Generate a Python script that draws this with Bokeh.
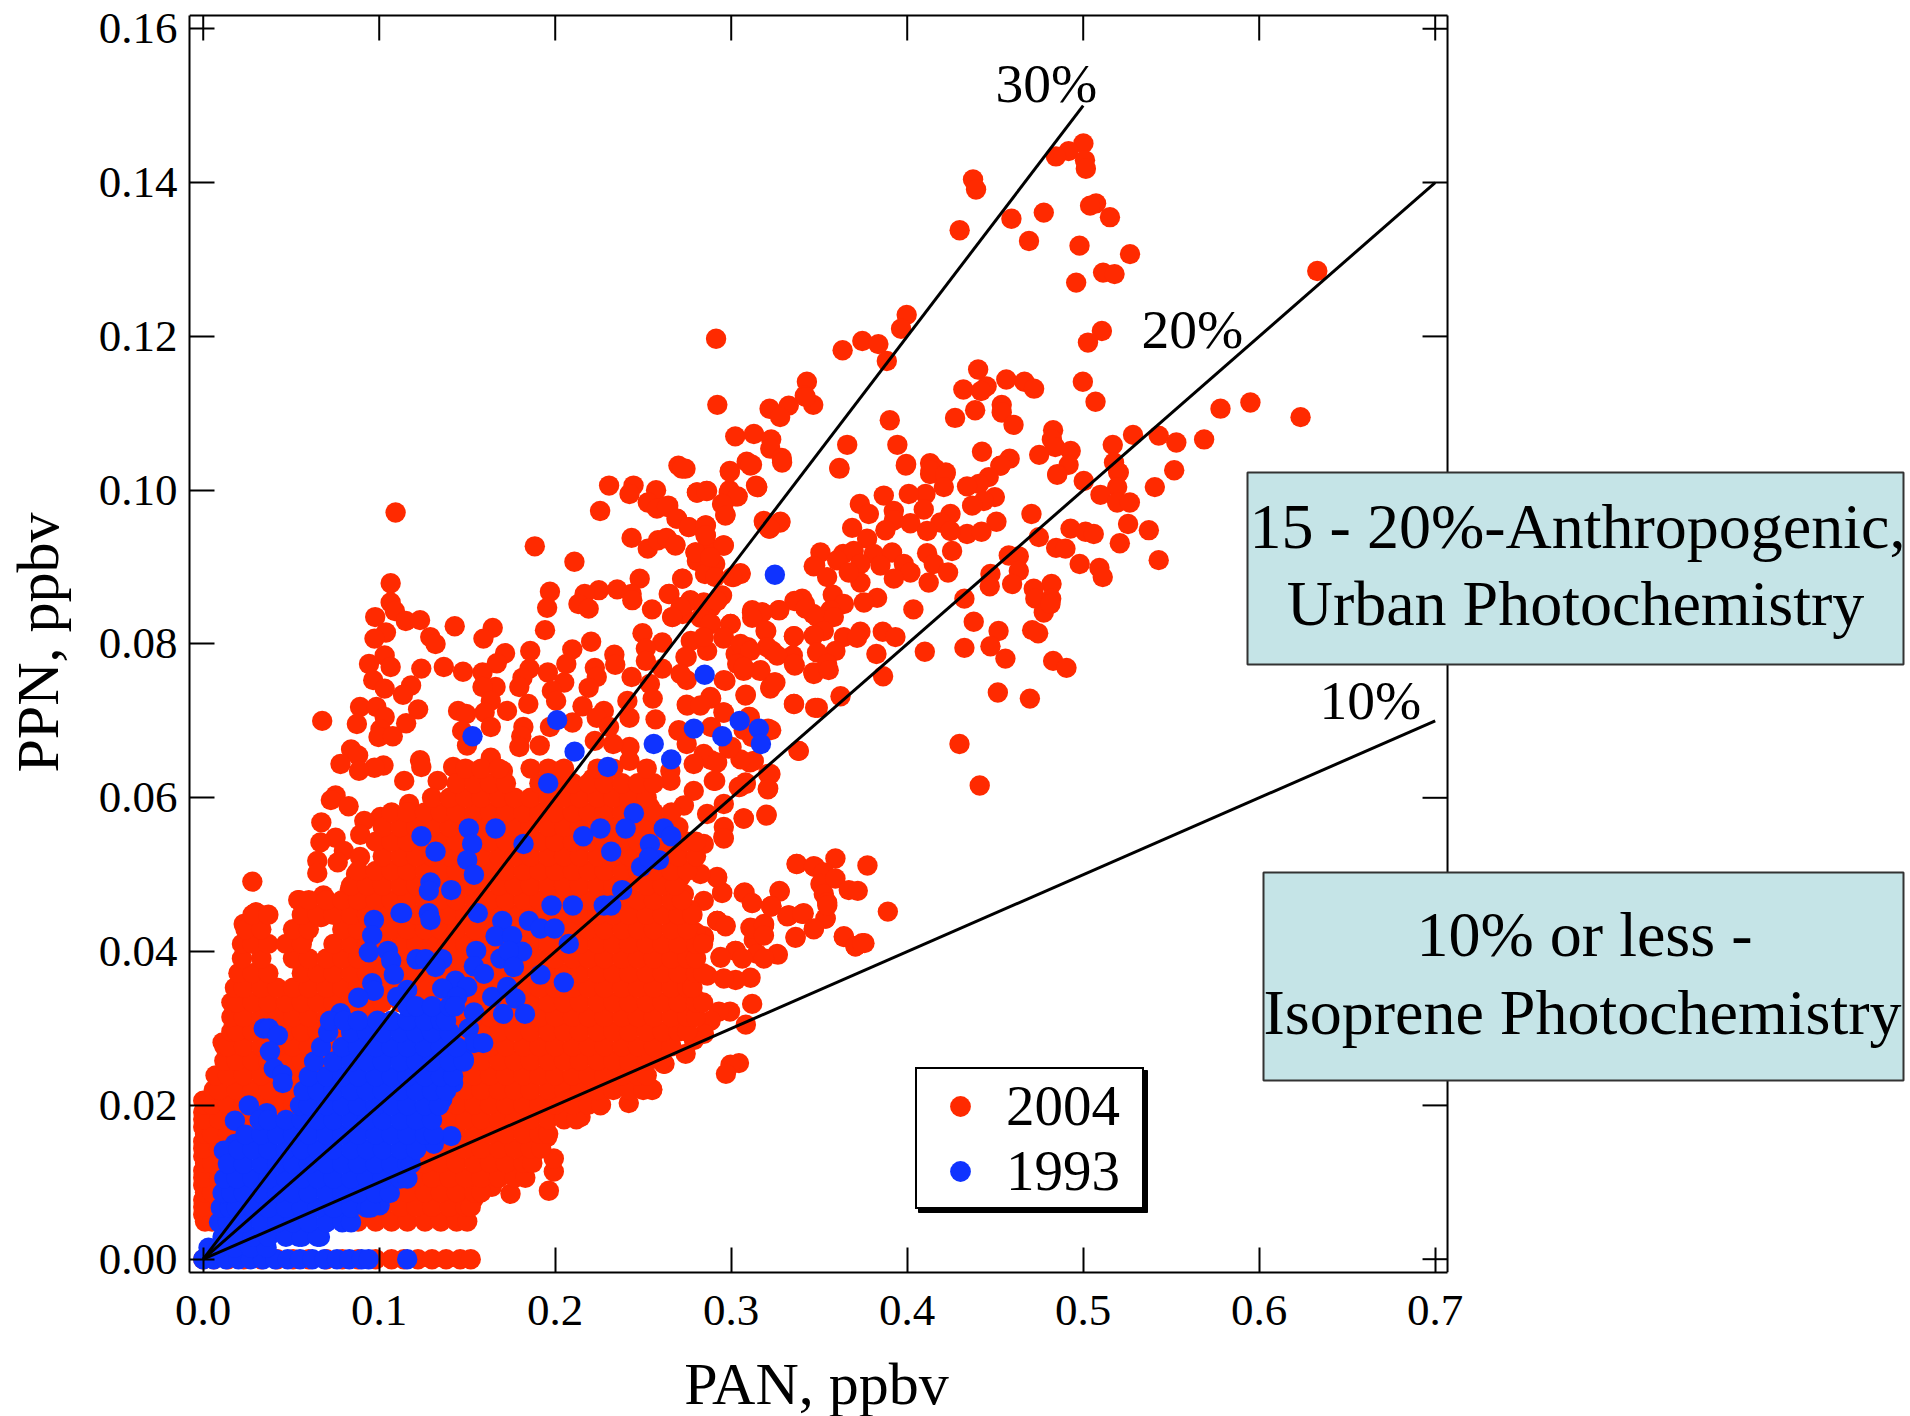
from bokeh.embed import file_html
from bokeh.resources import INLINE
from bokeh.plotting import figure
from bokeh.models import (Range1d, LinearAxis, FixedTicker, PrintfTickFormatter, Label, BoxAnnotation,
                          Legend, LegendItem)

# ---- values ----
x_ticks = [0.0, 0.1, 0.2, 0.3, 0.4, 0.5, 0.6, 0.7]
y_ticks = [0.0, 0.02, 0.04, 0.06, 0.08, 0.10, 0.12, 0.14, 0.16]
pan_30 = [0.0, 0.5]
ppn_30 = [0.0, 0.15]
pan_20 = [0.0, 0.7]
ppn_20 = [0.0, 0.14]
pan_10 = [0.0, 0.7]
ppn_10 = [0.0, 0.07]

# 2004, upper part of the cloud
upper_2004 = [
(.5001,.1451),(.4917,.1441),(.4845,.1434),(.5010,.1429),(.5015,.1418),(.4374,.1404),(.4391,.1391),(.5073,.1373),
(.5039,.1370),(.5152,.1355),(.4776,.1361),(.4592,.1353),(.4298,.1338),(.4692,.1324),(.4979,.1318),(.5266,.1307),
(.5113,.1283),(.5178,.1281),(.4960,.1270),(.6330,.1285),(.3997,.1228),(.3965,.1210),(.5106,.1207),(.5027,.1192),
(.3745,.1194),(.3836,.1190),(.3633,.1182),(.3884,.1168),(.4403,.1157),(.4563,.1144),(.4666,.1141),(.4998,.1141),
(.3430,.1141),(.4319,.1131),(.4451,.1135),(.4420,.1129),(.4721,.1132),(.3418,.1123),(.3466,.1111),(.5070,.1115),
(.5950,.1114),(.5780,.1106),(.6235,.1095),(.4537,.1111),(.4386,.1104),(.4537,.1101),(.4272,.1094),(.3901,.1091),
(.4604,.1085),(.4829,.1078),(.4822,.1066),(.3659,.1059),(.3944,.1059),(.5283,.1072),(.5429,.1071),(.5529,.1062),
(.5687,.1066),(.5168,.1059),(.4425,.1050),(.4841,.1056),(.4929,.1051),(.4750,.1046),(.4582,.1041),(.4530,.1032),
(.3994,.1034),(.4130,.1035),(.4159,.1028),(.4219,.1023),(.4917,.1033),(.5175,.1036),(.3614,.1029),(.5517,.1026),
(.5199,.1023),(.4853,.1021),(.4130,.1021),
(.2914,.1197),(.2921,.1111),(.3218,.1106),(.3327,.1110),(.3278,.1095),(.3424,.1121),(.3023,.1070),(.3129,.1073),
(.3227,.1066),(.3222,.1054),(.3287,.1042),(.3088,.1037),(.3118,.1033),(.2700,.1032),(.2740,.1028),(.2992,.1025),
(.3141,.1006),(.2306,.1006),(.2445,.1006),
]

# 2004, middle-left lace
middle_2004 = [
(.2573,.1000),(.2422,.0995),(.2805,.0997),(.2863,.0999),(.2990,.1000),(.3148,.1004),(.3025,.0992),(.2526,.0984),
(.2642,.0980),(.2956,.0982),(.2578,.0976),(.2255,.0973),(.1093,.0971),(.2967,.0968),(.2689,.0963),(.2758,.0952),
(.2856,.0954),(.3187,.0958),(.3278,.0958),(.3215,.0950),(.2434,.0938),(.2631,.0938),(.2526,.0924),(.2584,.0935),
(.2682,.0929),(.1884,.0927),(.2856,.0941),(.2956,.0928),(.2798,.0919),(.2886,.0924),(.2805,.0908),(.2909,.0904),
(.2109,.0907),(.3053,.0891),(.3014,.0887),(.2851,.0891),(.3477,.0902),(.2480,.0885),(.2724,.0885),(.2909,.0887),
(.1065,.0879),(.1970,.0868),(.2248,.0870),(.2167,.0865),(.2352,.0871),(.2434,.0865),(.2649,.0865),(.2770,.0856),
(.2932,.0861),(.2132,.0852),(.2438,.0857),(.2190,.0846),(.1954,.0847),(.1065,.0854),(.2550,.0845),(.3118,.0841),
(.3176,.0841),(.3273,.0844),(.3373,.0856),(.3419,.0852),(.3466,.0839),(.2724,.0839),(.2666,.0835),(.2886,.0848),
(.0977,.0835),(.1089,.0843),(.1151,.0830),(.1232,.0831),(.1429,.0823),(.1645,.0821),(.2997,.0826),(.2886,.0826),
(.3199,.0817),(.2496,.0814),(.1942,.0818),(.3357,.0810),(.1038,.0815),(.1290,.0809),(.1592,.0807),(.0973,.0807),
(.2608,.0802),(.2770,.0804),(.2956,.0807),(.3095,.0796),(.1320,.0800),(.2204,.0803),(.2515,.0794),(.1858,.0791),
(.2097,.0793),(.1715,.0788),(.3234,.0791),(.3350,.0785),(.2747,.0783),(.2336,.0786),(.2863,.0791),(.3025,.0787),
(.1031,.0785),(.0942,.0774),(.1065,.0770),(.1668,.0775),(.1367,.0770),(.1239,.0768),(.1476,.0764),(.2063,.0774),
(.2225,.0769),(.2341,.0773),(.2608,.0768),(.1854,.0768),(.1958,.0763),(.2515,.0778),(.1587,.0763),(.3361,.0772),
(.3071,.0765),(.3164,.0765),(.3466,.0763),(.2434,.0757),(.2236,.0757),(.1814,.0756),(.0966,.0753),(.1181,.0746),
(.2967,.0752),(.3245,.0750),(.2747,.0753),(.2538,.0748),(.2190,.0743),(.2051,.0750),(.1981,.0739),(.1661,.0744),
(.1587,.0744),(.1031,.0742),(.3083,.0734),(.3222,.0742),(.1135,.0734),(.1796,.0744),(.2554,.0729),(.2410,.0726),
(.2886,.0729),(.2747,.0721),(.3357,.0722),(.1847,.0722),(.2005,.0726),(.1634,.0726),(.0891,.0718),(.0984,.0718),
(.1448,.0713),(.1221,.0715),(.2276,.0713),(.2155,.0719),(.3477,.0717),(.2956,.0711),(.1599,.0711),(.1726,.0713),
(.1494,.0709),(.1031,.0705),(.2236,.0704),(.2422,.0704),(.2570,.0702),(.0676,.0700),(.0873,.0696),(.1153,.0697),
(.2098,.0698),(.3106,.0705),(.1819,.0692),(.1471,.0687),(.1007,.0689),(.2700,.0687),(.3210,.0690),(.1970,.0692),
(.2886,.0692),(.2306,.0692),(.1634,.0692),(.0996,.0679),(.1077,.0680),(.3118,.0679),(.1807,.0680),(.1499,.0668),
(.2225,.0674),(.3384,.0661),(.0840,.0663),(.1796,.0666),(.1912,.0668),(.3002,.0666),(.2747,.0670),(.2422,.0666),
(.2329,.0670),(.1634,.0652),(.0880,.0655),(.1232,.0649),(.0780,.0644),(.1420,.0640),(.1024,.0642),(.0973,.0639),
(.3106,.0646),(.2886,.0649),(.3210,.0631),(.0885,.0635),(.1239,.0640),(.2422,.0648),(.2654,.0635),(.1142,.0622),
(.3083,.0618),(.3048,.0614),(.3210,.0612),(.1332,.0622),(.1494,.0631),(.2909,.0622),(.1703,.0635),(.2213,.0625),
(.0752,.0603),(.0725,.0597),(.0826,.0589),(.1170,.0592),(.2538,.0588),(.3201,.0578),(.3071,.0573),(.0671,.0568),
(.1007,.0575),(.0915,.0570),(.2955,.0549),(.0892,.0552),(.0752,.0548),(.0666,.0542),(.0799,.0531),(.0648,.0518),
(.0764,.0516),(.0648,.0502),(.0891,.0523),(.0279,.0491),(.0868,.0501),(.3373,.0514),(.3477,.0510),(.3276,.0478),
(.3076,.0477),(.3118,.0463),(.3227,.0459),(.2949,.0477),(.2920,.0496),(.0544,.0467),(.0683,.0473),(.0833,.0481),
(.0300,.0451),(.0230,.0436),(.0671,.0445),(.3326,.0447),(.3408,.0449),(.3187,.0436),(.2921,.0440),
]

# 2004, right-hand part of the cloud
right_2004 = [
(.2721,.1028),(.2992,.1024),(.3109,.1032),(.3289,.1036),(.3615,.1028),(.3992,.1032),(.4132,.1026),(.4217,.1021),
(.4530,.1032),(.4852,.1020),(.5003,.1012),(.5202,.1023),(.5193,.1004),(.5407,.1004),(.4463,.1017),(.4407,.1008),
(.4340,.1005),(.4208,.1004),(.2806,.0997),(.2859,.0999),(.2986,.0997),(.3037,.0992),(.3147,.1004),(.5098,.0994),
(.5193,.0984),(.5265,.0984),(.4498,.0991),(.4435,.0986),(.4369,.0980),(.4104,.0995),(.4009,.0995),(.3867,.0993),
(.3731,.0982),(.2948,.0982),(.2967,.0967),(.2636,.0978),(.2693,.0963),(.2759,.0952),(.2854,.0954),(.4706,.0969),
(.4246,.0969),(.4094,.0975),(.3782,.0969),(.3924,.0973),(.4507,.0959),(.4018,.0957),(.3924,.0961),(.4189,.0958),
(.3280,.0959),(.3185,.0960),(.3219,.0950),(.3687,.0951),(.3876,.0948),(.5255,.0956),(.4928,.0950),(.5373,.0948),
(.5013,.0946),(.5060,.0943),(.4340,.0943),(.4422,.0946),(.4246,.0947),(.4113,.0947),(.2636,.0937),(.2683,.0928),
(.2854,.0941),(.2958,.0928),(.4748,.0939),(.3772,.0937),(.2797,.0919),(.2882,.0913),(.5208,.0931),(.4846,.0925),
(.4899,.0924),(.4255,.0921),(.4113,.0918),(.3507,.0919),(.3636,.0917),(.3696,.0921),(.3810,.0917),(.3914,.0919),
(.4577,.0915),(.4634,.0914),(.4980,.0904),(.5092,.0899),(.5111,.0887),(.5429,.0909),(.3469,.0901),(.3602,.0909),
(.3734,.0904),(.3848,.0902),(.3981,.0904),(.4151,.0904),(.4232,.0893),(.4634,.0895),(.4473,.0891),(.3053,.0892),
(.3005,.0887),(.2721,.0885),(.4018,.0893),(.3924,.0885),(.4122,.0880),(.3734,.0880),(.3545,.0887),(.3668,.0893),
(.4596,.0878),(.4469,.0875),(.4820,.0878),(.4719,.0872),(.2645,.0865),(.2948,.0863),(.4728,.0859),(.4818,.0859),
(.4325,.0859),(.3577,.0864),(.3403,.0859),(.3359,.0856),(.3829,.0860),(.3754,.0854),(.2768,.0857),(.2844,.0854),
(.2712,.0848),(.2920,.0856),(.4776,.0841),(.4814,.0852),(.4035,.0845),(.3640,.0852),(.3564,.0844),(.3422,.0846),
(.3270,.0844),(.3119,.0844),(.3176,.0841),(.2664,.0835),(.2825,.0834),(.3119,.0834),(.2996,.0826),(.2882,.0826),
(.3488,.0835),(.3583,.0835),(.4378,.0829),(.4710,.0818),(.4744,.0814),(.4519,.0817),(.3861,.0816),(.3933,.0809),
(.3734,.0816),(.3195,.0817),(.3356,.0810),(.3640,.0809),(.3526,.0817),(.3469,.0811),(.3715,.0808),(.2958,.0809),
(.2844,.0809),(.3053,.0800),(.4473,.0797),(.4325,.0795),(.4100,.0790),(.3825,.0787),(.4558,.0781),(.3592,.0791),
(.3488,.0789),(.3204,.0796),(.3109,.0791),(.3261,.0785),(.2740,.0783),(.4829,.0778),(.4905,.0769),(.3356,.0774),
(.3545,.0774),(.3469,.0761),(.3554,.0766),(.3166,.0766),(.3034,.0774),(.2958,.0753),(.3071,.0770),(.3223,.0744),
(.3251,.0750),(.3863,.0758),(.2712,.0761),(.3081,.0733),(.4515,.0737),(.4697,.0729),(.3356,.0722),(.3492,.0717),
(.3621,.0732),(.2882,.0731),(.2750,.0720),(.2825,.0720),(.2958,.0711),(.3100,.0705),(.3227,.0688),(.3071,.0688),
(.2702,.0688),(.3382,.0661),(.4297,.0670),(.4412,.0616),(.3128,.0648),(.3053,.0650),(.2986,.0664),(.2844,.0657),
(.2787,.0644),(.2920,.0646),(.3223,.0631),(.3081,.0620),(.3043,.0614),(.3208,.0611),(.2901,.0622),(.2787,.0609),
(.2655,.0622),(.3071,.0573),(.3200,.0577),(.2958,.0592),(.2958,.0562),(.2731,.0590),(.2863,.0579),(.2958,.0547),
(.2844,.0540),(.3371,.0514),(.3592,.0521),(.3774,.0512),(.3469,.0511),(.3526,.0503),(.3507,.0488),(.3592,.0495),
(.3668,.0480),(.3719,.0479),(.3526,.0475),(.3545,.0464),(.3890,.0452),(.3274,.0479),(.3071,.0476),(.3119,.0463),
(.3229,.0459),(.2948,.0476),(.2920,.0497),(.2825,.0501),(.2712,.0497),(.2844,.0466),(.2731,.0475),(.2768,.0454),
(.2645,.0492),(.3412,.0450),(.3327,.0447),(.3536,.0443),(.3469,.0429),(.3365,.0418),(.3640,.0419),(.3757,.0411),
(.3706,.0407),(.2920,.0440),(.2967,.0434),(.3185,.0434),(.3109,.0431),(.2844,.0420),(.2797,.0425),(.3128,.0415),
(.3024,.0401),(.2939,.0393),(.3261,.0397),(.3147,.0397),(.2693,.0436),(.2655,.0414),(.2768,.0405),(.2626,.0393),
(.2921,.0440),(.2968,.0433),(.3119,.0430),(.3186,.0434),(.3186,.0421),(.3318,.0446),(.3404,.0449),(.3536,.0443),
(.3470,.0430),(.3366,.0419),(.3640,.0420),(.3706,.0407),(.3744,.0411),(.3227,.0459),(.3546,.0460),(.3265,.0396),
(.3186,.0391),(.3025,.0401),(.2940,.0392),(.3063,.0391),(.3110,.0366),(.3025,.0363),(.2958,.0365),(.2864,.0369),
(.3119,.0332),(.2993,.0322),(.2930,.0322),(.3083,.0305),(.3044,.0255),(.2996,.0253),(.2970,.0241),(.2845,.0417),
(.2798,.0423),(.2788,.0341),(.2807,.0332),(.2883,.0310),(.2845,.0293),(.2788,.0285),(.2741,.0267),(.2621,.0254),
(.2551,.0220),(.2513,.0231),(.2674,.0380),(.2731,.0388),(.2712,.0358),(.2542,.0358),(.2731,.0306),(.2627,.0293),
(.2523,.0271),
]

# 2004, edge of the dense mass at lower right and near the axis
lower_2004 = [
(.1538,.0079),(.1640,.0094),(.1746,.0085),(.1964,.0089),(.1992,.0114),(.1992,.0131),(.1954,.0159),(.1880,.0139),
(.1800,.0111),(.2087,.0189),(.2030,.0187),(.2144,.0185),(.2257,.0200),(.2418,.0203),(.2551,.0221),(.2390,.0228),
(.2617,.0254),(.0110,.0282),(.0210,.0373),(.0240,.0436),(.0300,.0451),(.0570,.0419),(.0540,.0467),(.0667,.0445),
]

# 2004, points sitting on the zero line
zero_pan_2004 = [.000,.006,.014,.023,.033,.042,.051,.060,.070,.079,.088,.098,.107,.114,.122,.130,.138,.146,.152]

# 2004, PPN of the points hugging the PPN axis (PAN close to zero)
edge_ppn_2004 = [.0058,.0077,.0096,.0115,.0134,.0153,.0172,.0191,.0206]

# 2004, the solid mass, read row by row (PPN value, PAN values)
rows_2004 = [
(.0049,[.001,.005,.079,.088,.098,.107,.116,.126,.135,.144,.150]),
(.0068,[.000,.009,.093,.102,.112,.121,.130,.140,.149,.152]),
(.0087,[.001,.005,.098,.107,.116,.126,.135,.144,.154,.158]),
(.0106,[.000,.009,.112,.121,.130,.140,.149,.158,.168,.177,.183]),
(.0125,[.001,.005,.014,.116,.126,.135,.144,.154,.163,.172,.182,.187]),
(.0144,[.000,.009,.019,.121,.130,.140,.149,.158,.168,.177,.186,.192]),
(.0163,[.001,.005,.014,.023,.126,.135,.144,.154,.163,.172,.182,.191,.196]),
(.0182,[.000,.009,.019,.028,.037,.047,.130,.140,.149,.158,.168,.177,.186,.196,.205,.212]),
(.0201,[.001,.005,.014,.023,.033,.042,.051,.060,.135,.144,.154,.163,.172,.182,.191,.200,.210,.219,.226]),
(.0220,[.006,.009,.019,.028,.037,.047,.056,.065,.130,.140,.149,.158,.168,.177,.186,.196,.205,.214,.224,.233,.242,.250]),
(.0239,[.007,.014,.023,.033,.042,.051,.060,.070,.135,.144,.154,.163,.172,.182,.191,.200,.210,.219,.228,.238,.247,.252]),
(.0258,[.012,.019,.028,.037,.047,.056,.065,.074,.140,.149,.158,.168,.177,.186,.196,.205,.214,.224,.233,.242,.252,.260]),
(.0277,[.012,.014,.023,.033,.042,.051,.060,.070,.079,.135,.144,.154,.163,.172,.182,.191,.200,.210,.219,.228,.238,.247,.256,.266]),
(.0296,[.016,.019,.028,.037,.047,.056,.065,.074,.084,.130,.140,.149,.158,.168,.177,.186,.196,.205,.214,.224,.233,.242,.252,.261,.270,.275]),
(.0315,[.016,.023,.033,.042,.051,.060,.070,.079,.088,.098,.126,.135,.144,.154,.163,.172,.182,.191,.200,.210,.219,.228,.238,.247,.256,.266,.275,.280]),
(.0334,[.016,.019,.028,.037,.047,.056,.065,.074,.084,.093,.102,.112,.121,.130,.140,.149,.158,.168,.177,.186,.196,.205,.214,.224,.233,.242,.252,.261,.270,.280,.284]),
(.0353,[.018,.023,.033,.042,.051,.060,.070,.079,.088,.098,.107,.116,.126,.135,.144,.154,.163,.172,.182,.191,.200,.210,.219,.228,.238,.247,.256,.266,.275,.278]),
(.0372,[.020,.028,.037,.056,.065,.074,.084,.093,.102,.112,.121,.130,.140,.149,.158,.168,.177,.186,.196,.205,.214,.224,.233,.242,.252,.261,.270,.280,.284]),
(.0391,[.022,.033,.051,.060,.070,.079,.088,.098,.107,.116,.126,.135,.144,.154,.163,.172,.182,.191,.200,.210,.219,.228,.238,.247,.256,.266,.275,.280]),
(.0410,[.022,.028,.037,.047,.056,.074,.084,.093,.102,.112,.121,.130,.140,.149,.158,.168,.177,.186,.196,.205,.214,.224,.233,.242,.252,.261,.270,.280,.284]),
(.0429,[.024,.033,.051,.060,.079,.088,.098,.107,.116,.126,.135,.144,.154,.163,.172,.182,.191,.200,.210,.219,.228,.238,.247,.256,.266,.275]),
(.0448,[.028,.037,.056,.065,.074,.084,.093,.102,.112,.121,.130,.140,.149,.158,.168,.177,.186,.196,.205,.214,.224,.233,.242,.252,.261,.270,.278]),
(.0467,[.060,.070,.079,.088,.098,.107,.116,.126,.135,.144,.154,.163,.172,.182,.191,.200,.210,.219,.228,.238,.247,.256,.266,.272]),
(.0486,[.084,.093,.102,.112,.121,.130,.140,.149,.158,.168,.177,.186,.196,.205,.214,.224,.233,.242,.252,.261,.268]),
(.0505,[.088,.098,.107,.116,.126,.135,.144,.154,.163,.172,.182,.191,.200,.210,.219,.228,.238,.247,.256,.266,.275]),
(.0524,[.102,.112,.121,.130,.140,.149,.158,.168,.177,.186,.196,.205,.214,.224,.233,.242,.252,.261,.270,.280]),
(.0543,[.098,.107,.116,.126,.135,.144,.154,.163,.172,.182,.191,.200,.210,.219,.228,.238,.247,.256,.266,.275,.280]),
(.0562,[.102,.112,.121,.130,.140,.149,.158,.168,.177,.186,.196,.205,.214,.224,.233,.242,.252,.261,.270]),
(.0581,[.107,.116,.126,.135,.144,.154,.163,.172,.182,.191,.200,.210,.219,.228,.238,.247,.256,.266]),
(.0600,[.130,.140,.149,.158,.168,.177,.186,.196,.205,.214,.224,.233,.242,.252]),
(.0619,[.144,.154,.163,.172,.191,.200,.210,.219,.228,.238,.247,.256]),
(.0638,[.149,.158,.168,.186,.196,.205,.224,.233,.252]),
]

# 1993, separate points
separate_1993 = [
(.2011,.0701),(.1530,.0680),(.2110,.0660),(.2299,.0640),(.2560,.0670),(.2659,.0650),(.2788,.0690),(.1960,.0619),
(.1509,.0560),(.1661,.0560),(.1240,.0550),(.1320,.0530),(.1528,.0540),(.1820,.0540),(.1500,.0519),(.1538,.0500),
(.1291,.0490),(.1282,.0479),(.1409,.0480),(.1121,.0450),(.1282,.0450),(.1291,.0441),(.1560,.0450),(.1699,.0440),
(.1661,.0420),(.1755,.0420),(.1850,.0440),(.1916,.0430),(.1996,.0430),(.1979,.0460),(.2100,.0460),(.2276,.0460),
(.2318,.0460),(.2380,.0480),(.2447,.0580),(.2400,.0560),(.2257,.0560),(.2159,.0550),(.2318,.0530),(.2538,.0540),
(.2617,.0560),(.2659,.0550),(.2589,.0519),(.2488,.0510),(.2532,.0522),(.2077,.0410),(.3248,.0890),(.2849,.0760),
(.2949,.0680),(.3048,.0700),(.3157,.0690),(.3169,.0670),(.1130,.0450),(.0970,.0441),(.0960,.0421),(.0941,.0399),
(.1812,.0400),(.1689,.0391),(.1736,.0401),(.1551,.0401),(.1049,.0401),(.1068,.0388),(.1212,.0390),(.1263,.0390),
(.1358,.0390),(.1320,.0380),(.1538,.0381),(.1595,.0371),(.1765,.0380),(.1083,.0370),(.1916,.0370),(.2049,.0360),
(.0960,.0359),(.0970,.0349),(.0881,.0340),(.1433,.0362),(.1500,.0354),(.1358,.0352),(.1159,.0350),(.1102,.0341),
(.1443,.0341),(.1642,.0341),(.1727,.0354),(.1774,.0339),(.1704,.0319),(.1828,.0319),(.1538,.0321),(.0780,.0320),
(.0344,.0300),(.0373,.0300),(.0424,.0291),(.0379,.0270),(.0401,.0248),(.0449,.0240),(.0452,.0229),(.1509,.0300),
(.1538,.0281),(.1591,.0281),(.1481,.0260),(.1420,.0229),(.1358,.0208),(.0259,.0200),(.0361,.0190),(.0180,.0180),
(.1409,.0160),(.1310,.0150),(.0180,.0150),(.0117,.0141),(.1002,.0070),(.0663,.0029),(.0543,.0029),
]

# 1993, points on the zero line
zero_pan_1993 = [.000,.006,.013,.020,.027,.034,.041,.048,.055,.062,.069,.076,.083,.090,.094,.1159]

# 1993, the solid mass, read row by row (PPN value, PAN values)
rows_1993 = [
(.0015,[.003,.009,.018,.027,.036]),
(.0029,[.011,.019,.028,.037,.047,.056,.065]),
(.0048,[.009,.014,.023,.033,.042,.051,.060,.070,.079,.084]),
(.0067,[.010,.015,.019,.028,.037,.047,.056,.065,.074,.084,.093,.095]),
(.0086,[.011,.016,.023,.033,.042,.051,.060,.070,.079,.088,.098,.106]),
(.0105,[.012,.019,.028,.037,.047,.056,.065,.074,.084,.093,.102,.112,.116]),
(.0124,[.014,.023,.033,.042,.051,.060,.070,.079,.088,.098,.107,.116,.118]),
(.0143,[.020,.028,.037,.047,.056,.065,.074,.084,.093,.102,.112,.121]),
(.0162,[.024,.033,.042,.051,.060,.070,.079,.088,.098,.107,.116,.126,.131]),
(.0181,[.032,.037,.047,.056,.065,.074,.084,.093,.102,.112,.121,.130]),
(.0200,[.055,.060,.070,.079,.088,.098,.107,.116,.126,.134]),
(.0219,[.057,.065,.074,.084,.093,.102,.112,.121,.130,.138]),
(.0238,[.060,.070,.079,.088,.098,.107,.116,.126,.135,.142]),
(.0257,[.063,.074,.084,.093,.102,.112,.121,.130,.140,.148]),
(.0276,[.067,.079,.088,.098,.107,.116,.126,.135,.144]),
(.0295,[.071,.084,.093,.102,.112,.121,.130,.140]),
(.0310,[.072,.080,.088,.099,.107,.116,.126,.135,.138]),
(.0329,[.116,.121,.130,.140,.143]),
]

# ---- split into plain PAN / PPN arrays ----
pan_2004, ppn_2004 = [], []
for group in (upper_2004, middle_2004, right_2004, lower_2004):
    for a, b in group:
        pan_2004.append(a)
        ppn_2004.append(b)
for a in zero_pan_2004:
    pan_2004.append(a)
    ppn_2004.append(0.0)
for b in edge_ppn_2004:
    pan_2004.append(0.0)
    ppn_2004.append(b)
for b, xs in rows_2004:
    for a in xs:
        pan_2004.append(a)
        ppn_2004.append(b)

pan_1993, ppn_1993 = [], []
for a, b in separate_1993:
    pan_1993.append(a)
    ppn_1993.append(b)
for a in zero_pan_1993:
    pan_1993.append(a)
    ppn_1993.append(0.0)
for b, xs in rows_1993:
    for a in xs:
        pan_1993.append(a)
        ppn_1993.append(b)

# ---- figure ----
SERIF = "Liberation Serif"
RED = "#FF2A00"
BLUE = "#0F33FF"
BOX = "#C5E4E7"
BOX_EDGE = "#333333"
X_LOW, X_HIGH = -0.0078, 0.7070
Y_LOW, Y_HIGH = -0.00173, 0.16173
TICK_X = 0.0142
TICK_Y = 0.00325

p = figure(width=1910, height=1416, output_backend="svg", toolbar_location=None,
           x_range=Range1d(X_LOW, 0.97006), y_range=Range1d(Y_LOW, 0.16212),
           frame_width=1721, frame_height=1260,
           min_border_left=189, min_border_top=12, min_border_right=0, min_border_bottom=144,
           x_axis_type=None, y_axis_type=None, background_fill_color="white", border_fill_color="white")
p.grid.visible = False
p.outline_line_color = None


def style(ax, ticks, fmt):
    ax.ticker = FixedTicker(ticks=ticks)
    ax.formatter = PrintfTickFormatter(format=fmt)
    ax.axis_line_color = "black"
    ax.axis_line_width = 2
    ax.major_tick_in = 25
    ax.major_tick_out = 0
    ax.major_tick_line_width = 2
    ax.major_tick_line_color = "black"
    ax.minor_tick_line_color = None
    ax.major_label_text_font = SERIF
    ax.major_label_text_color = "black"
    ax.major_label_text_font_size = "45px"
    ax.axis_label_text_font = SERIF
    ax.axis_label_text_font_style = "normal"
    ax.axis_label_text_color = "black"
    ax.axis_label_text_font_size = "60px"


bottom = LinearAxis(bounds=(X_LOW, X_HIGH))
style(bottom, x_ticks, "%.1f")
bottom.major_label_standoff = 23
left = LinearAxis(axis_label="PPN, ppbv", bounds=(Y_LOW, Y_HIGH))
style(left, y_ticks, "%.2f")
left.major_label_standoff = 12
left.axis_label_standoff = 25
p.add_layout(bottom, "below")
p.add_layout(left, "left")

r2004 = p.scatter(pan_2004, ppn_2004, size=20.4, color=RED, line_color=None)
r1993 = p.scatter(pan_1993, ppn_1993, size=20.4, color=BLUE, line_color=None)

p.line(pan_30, ppn_30, line_color="black", line_width=3)
p.line(pan_20, ppn_20, line_color="black", line_width=3)
p.line(pan_10, ppn_10, line_color="black", line_width=3)

# top and right edges of the box, with their ticks
p.line([X_LOW, X_HIGH], [Y_HIGH, Y_HIGH], line_color="black", line_width=2)
p.line([X_HIGH, X_HIGH], [Y_LOW, Y_HIGH], line_color="black", line_width=2)
p.segment(x_ticks, [Y_HIGH] * len(x_ticks), x_ticks, [Y_HIGH - TICK_Y] * len(x_ticks), line_color="black", line_width=2)
p.segment([X_HIGH] * len(y_ticks), y_ticks, [X_HIGH - TICK_X] * len(y_ticks), y_ticks, line_color="black", line_width=2)


def make_label(px, py, text, size, align="left"):
    return Label(x=px, y=py - 0.35 * size, x_units="canvas", y_units="canvas", text=text,
                 text_font=SERIF, text_font_size=f"{size}px", text_color="black",
                 text_align=align, text_baseline="alphabetic")


def canvas_label(px, py, text, size, align="left"):
    p.add_layout(make_label(px, py, text, size, align))


def canvas_box(x0, y0, x1, y1, fill, edge, width):
    p.add_layout(BoxAnnotation(left=x0, right=x1, top=y0, bottom=y1,
                               left_units="canvas", right_units="canvas",
                               top_units="canvas", bottom_units="canvas",
                               fill_color=fill, fill_alpha=1.0, line_color=edge, line_width=width,
                               line_alpha=1.0))


canvas_label(995, 102, "30%", 55.5)
canvas_label(1141, 348, "20%", 55.5)
canvas_label(1319, 719, "10%", 55.5)

p.add_layout(make_label(816, 1404, "PAN, ppbv", 60, "center"), "below")

canvas_box(1247, 472, 1903, 664, BOX, BOX_EDGE, 2)
canvas_box(1263, 872, 1903, 1080, BOX, BOX_EDGE, 2)
canvas_label(1577, 548, "15 - 20%-Anthropogenic,", 64, "center")
canvas_label(1575, 625, "Urban Photochemistry", 64, "center")
canvas_label(1584, 956, "10% or less -", 64, "center")
canvas_label(1582, 1034, "Isoprene Photochemistry", 64, "center")

canvas_box(918, 1070, 1147, 1212, "black", "black", 1)
legend = Legend(items=[LegendItem(label="2004", renderers=[r2004]),
                       LegendItem(label="1993", renderers=[r1993])],
                location=(726, 63), orientation="vertical", margin=0, padding=4, spacing=0,
                glyph_width=78, glyph_height=52, label_standoff=7, label_width=132, label_height=65,
                label_text_font=SERIF, label_text_font_size="57px", label_text_color="black",
                border_line_color="black", border_line_width=2.5, border_line_alpha=1.0,
                background_fill_color="white", background_fill_alpha=1.0)
p.add_layout(legend, "center")

open("out.html", "w").write(file_html(p, INLINE))
